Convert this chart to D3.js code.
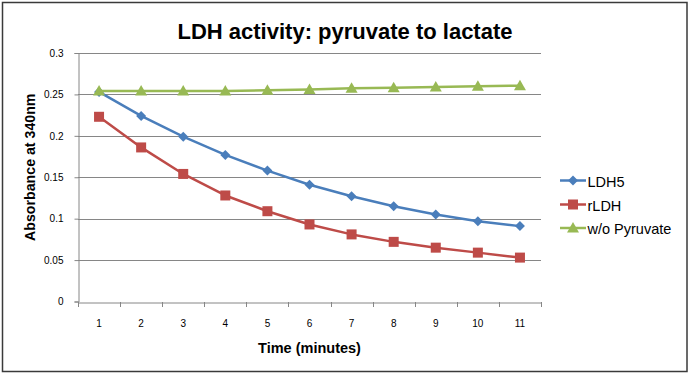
<!DOCTYPE html>
<html>
<head>
<meta charset="utf-8">
<script src="https://cdn.jsdelivr.net/npm/d3@7"></script>
<style>
  html, body { margin: 0; padding: 0; background: #fff; }
  svg { display: block; }
  text { font-family: "Liberation Sans", Arial, sans-serif; }
</style>
</head>
<body>
<svg id="chart" width="690" height="374"></svg>
<script>
const categories = [1, 2, 3, 4, 5, 6, 7, 8, 9, 10, 11];
const ldh5 = [0.253, 0.224, 0.199, 0.177, 0.158, 0.141, 0.127, 0.115, 0.105, 0.097, 0.091];
const rldh = [0.223, 0.186, 0.154, 0.128, 0.109, 0.093, 0.081, 0.072, 0.065, 0.059, 0.053];
const woPyruvate = [0.254, 0.254, 0.254, 0.254, 0.255, 0.256, 0.2575, 0.258, 0.259, 0.260, 0.2605];
const yTicks = [0, 0.05, 0.1, 0.15, 0.2, 0.25, 0.3];
const seriesNames = ["LDH5", "rLDH", "w/o Pyruvate"];

const series = [
  { name: seriesNames[0], values: ldh5, color: "#4a7ebb", marker: "diamond" },
  { name: seriesNames[1], values: rldh, color: "#be4b48", marker: "square" },
  { name: seriesNames[2], values: woPyruvate, color: "#98b954", marker: "triangle" }
];

const svg = d3.select("#chart");
const W = 690, H = 374;
const m = { left: 78, right: 541, top: 53, bottom: 301.5 };

svg.append("rect").attr("x", 2.5).attr("y", 2.5).attr("width", W - 5.5).attr("height", H - 5)
  .attr("fill", "#fff").attr("stroke", "#3a3a3a").attr("stroke-width", 1.5);

const x = d3.scaleBand().domain(categories).range([m.left, m.right]).padding(0);
const y = d3.scaleLinear().domain([0, 0.3]).range([m.bottom, m.top]);

// gridlines
svg.append("g").selectAll("line").data(yTicks.filter(d => d > 0)).join("line")
  .attr("x1", m.left).attr("x2", m.right)
  .attr("y1", d => Math.round(y(d)) + 0.5).attr("y2", d => Math.round(y(d)) + 0.5)
  .attr("stroke", "#868686").attr("stroke-width", 1);

// y axis
const yAxis = svg.append("g").attr("transform", `translate(${m.left + 0.5},0)`)
  .call(d3.axisLeft(y).tickValues(yTicks).tickSize(4).tickPadding(11).tickFormat(d => d3.format("")(d)));
yAxis.selectAll("path, line").attr("stroke", "#868686");
yAxis.selectAll("text").attr("font-size", 10).attr("fill", "#000")
  .style("font-family", "Liberation Sans, Arial, sans-serif");

// x axis
const xAxis = svg.append("g").attr("transform", `translate(0,${Math.round(m.bottom) + 0.5})`)
  .call(d3.axisBottom(x).tickSize(0).tickSizeOuter(0));
xAxis.select("path").attr("stroke", "#868686");
xAxis.selectAll("text").attr("font-size", 10).attr("fill", "#000").attr("y", 24).attr("dy", 0)
  .style("font-family", "Liberation Sans, Arial, sans-serif");
// tick marks between categories
const bounds = categories.map(c => x(c)).concat([x(categories[categories.length - 1]) + x.bandwidth()]);
svg.append("g").selectAll("line").data(bounds).join("line")
  .attr("x1", d => Math.round(d) + 0.5).attr("x2", d => Math.round(d) + 0.5)
  .attr("y1", Math.round(m.bottom)).attr("y2", Math.round(m.bottom) + 5)
  .attr("stroke", "#868686");

const cx = c => x(c) + x.bandwidth() / 2;

function drawMarker(g, type, px, py, color) {
  if (type === "diamond") {
    const s = 5;
    g.append("path").attr("d", `M${px},${py - s}L${px + s},${py}L${px},${py + s}L${px - s},${py}Z`)
      .attr("fill", color);
  } else if (type === "square") {
    const s = 5;
    g.append("rect").attr("x", px - s).attr("y", py - s).attr("width", 2 * s).attr("height", 2 * s)
      .attr("fill", color);
  } else {
    const s = 6;
    g.append("path").attr("d", `M${px},${py - s}L${px + s},${py + s * 0.75}L${px - s},${py + s * 0.75}Z`)
      .attr("fill", color);
  }
}

const line = d3.line().x(d => cx(d.c)).y(d => y(d.v));

series.forEach(s => {
  const pts = categories.map((c, i) => ({ c, v: s.values[i] }));
  const g = svg.append("g");
  g.append("path").datum(pts).attr("d", line).attr("fill", "none")
    .attr("stroke", s.color).attr("stroke-width", 2.5).attr("stroke-linejoin", "round");
  pts.forEach(p => drawMarker(g, s.marker, cx(p.c), y(p.v), s.color));
});

// legend
const legY = [180.5, 204.5, 228];
series.forEach((s, i) => {
  const g = svg.append("g");
  g.append("line").attr("x1", 560).attr("x2", 586).attr("y1", legY[i]).attr("y2", legY[i])
    .attr("stroke", s.color).attr("stroke-width", 2.5);
  drawMarker(g, s.marker, 573, legY[i], s.color);
  g.append("text").attr("x", 587.5).attr("y", legY[i] + 6).attr("font-size", 14.5).attr("fill", "#000")
    .text(s.name);
});

// title
svg.append("text").attr("x", 345).attr("y", 38.5).attr("text-anchor", "middle")
  .attr("font-size", 22).attr("font-weight", "bold").attr("fill", "#000")
  .text("LDH activity: pyruvate to lactate");

// axis titles
svg.append("text").attr("x", (m.left + m.right) / 2).attr("y", 353).attr("text-anchor", "middle")
  .attr("font-size", 14.5).attr("font-weight", "bold").attr("fill", "#000")
  .text("Time (minutes)");
svg.append("text").attr("transform", `translate(35,${(m.top + m.bottom) / 2 - 10}) rotate(-90)`)
  .attr("text-anchor", "middle").attr("font-size", 14.2).attr("font-weight", "bold").attr("fill", "#000")
  .text("Absorbance at 340nm");
</script>
</body>
</html>
